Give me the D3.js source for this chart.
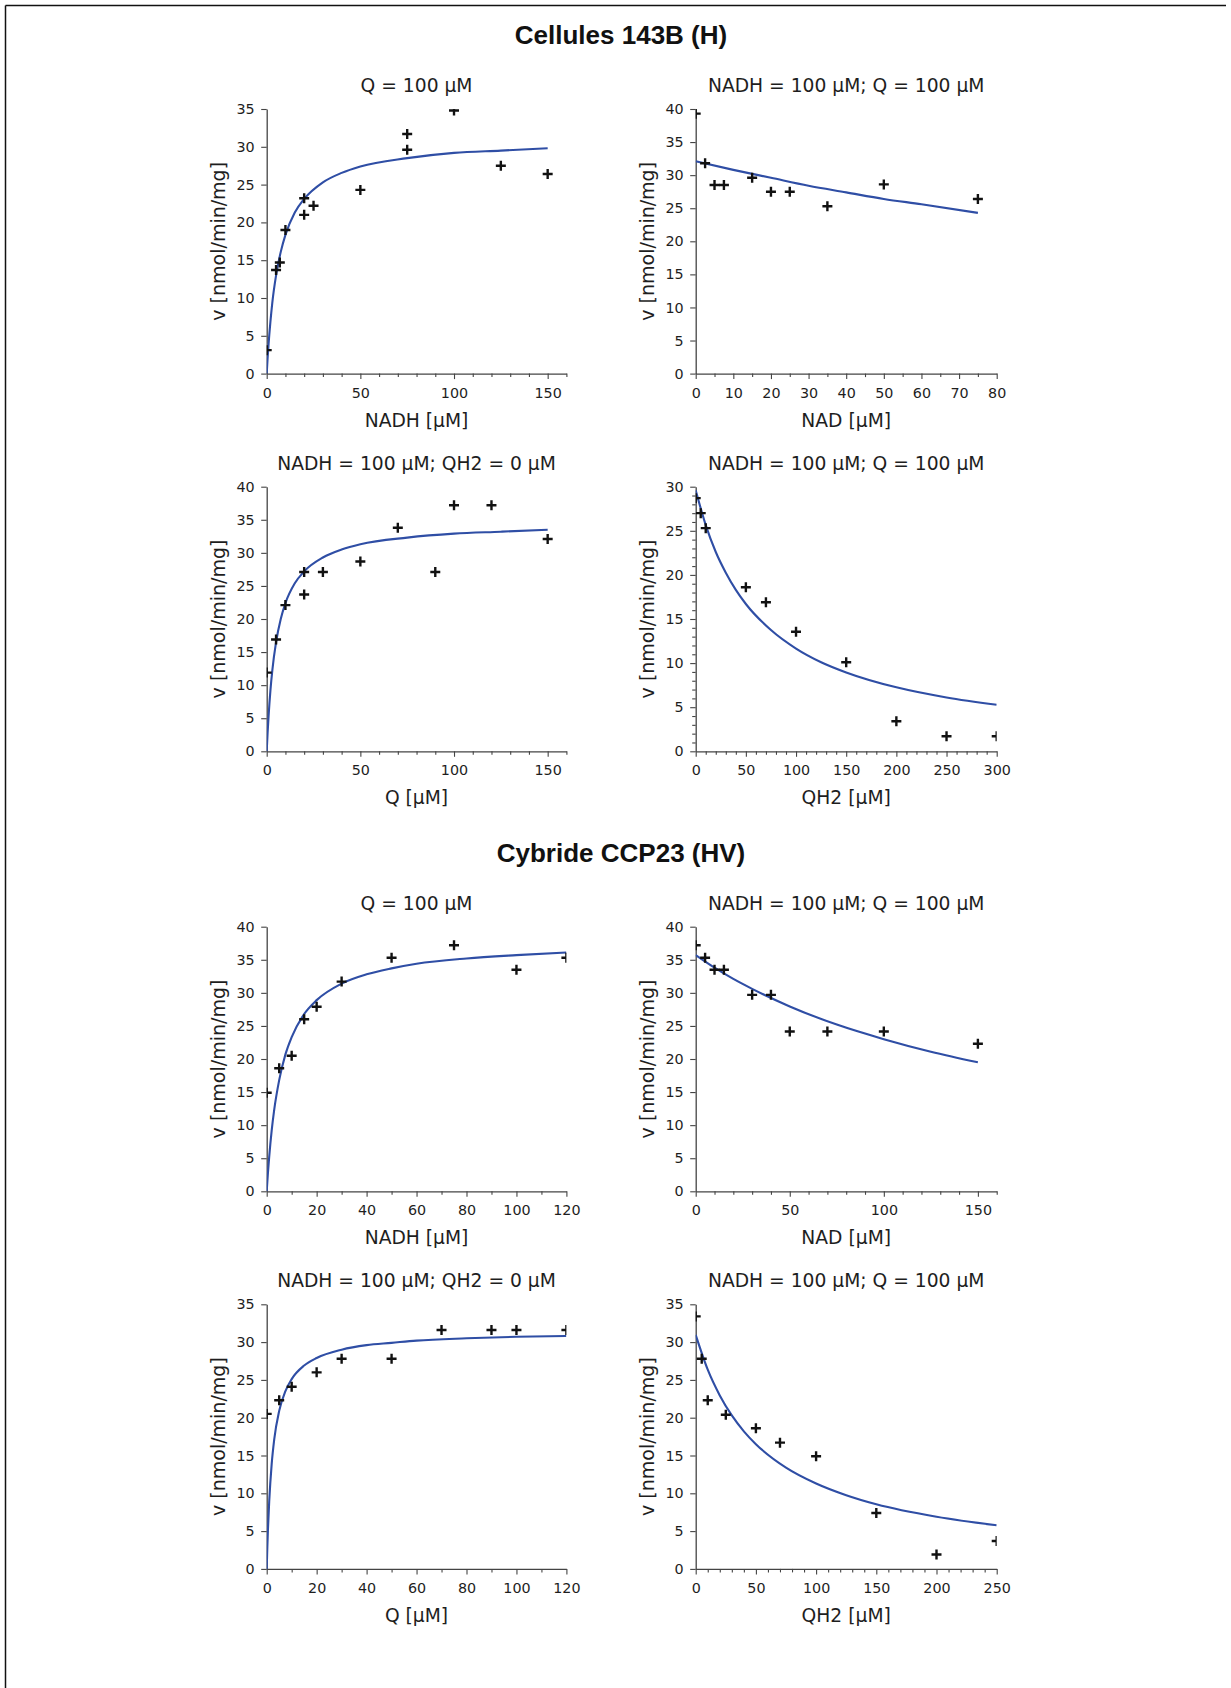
<!DOCTYPE html>
<html><head><meta charset="utf-8">
<script src="https://cdn.jsdelivr.net/npm/d3@7"></script>
<style>body{margin:0;background:#fff}svg{display:block}</style>
</head><body>
<svg id="c" width="1231" height="1688"></svg>
<script>
// ---------- text ----------
const groupTitles = ["Cellules 143B (H)", "Cybride CCP23 (HV)"];
const panelTitles = ["Q = 100 µM", "NADH = 100 µM; Q = 100 µM", "NADH = 100 µM; QH2 = 0 µM", "NADH = 100 µM; Q = 100 µM",
                     "Q = 100 µM", "NADH = 100 µM; Q = 100 µM", "NADH = 100 µM; QH2 = 0 µM", "NADH = 100 µM; Q = 100 µM"];
const xLabels = ["NADH [µM]", "NAD [µM]", "Q [µM]", "QH2 [µM]", "NADH [µM]", "NAD [µM]", "Q [µM]", "QH2 [µM]"];
const yLabel = "v [nmol/min/mg]";

// ---------- tick labels ----------
const xTicks150 = [0, 50, 100, 150];
const xTicks80 = [0, 10, 20, 30, 40, 50, 60, 70, 80];
const xTicks300 = [0, 50, 100, 150, 200, 250, 300];
const xTicks120 = [0, 20, 40, 60, 80, 100, 120];
const xTicks250 = [0, 50, 100, 150, 200, 250];
const yTicks35 = [0, 5, 10, 15, 20, 25, 30, 35];
const yTicks40 = [0, 5, 10, 15, 20, 25, 30, 35, 40];
const yTicks30 = [0, 5, 10, 15, 20, 25, 30];

// ---------- measured points ----------
const p1x = [0, 5, 7, 10, 20, 20, 25, 50, 75, 75, 100, 125, 150];
const p1y = [3.1, 13.7, 14.7, 19.0, 23.2, 21.0, 22.2, 24.3, 31.7, 29.6, 34.8, 27.5, 26.4];
const p2x = [0, 2.5, 5, 7.5, 15, 20, 25, 35, 50, 75];
const p2y = [39.3, 31.8, 28.5, 28.5, 29.6, 27.5, 27.5, 25.3, 28.6, 26.4];
const p3x = [0, 5, 10, 20, 20, 30, 50, 70, 90, 100, 120, 150];
const p3y = [11.9, 16.9, 22.1, 27.1, 23.7, 27.1, 28.7, 33.8, 27.1, 37.2, 37.2, 32.1];
const p4x = [0, 5, 10, 50, 70, 100, 150, 200, 250, 300];
const p4y = [28.7, 27.0, 25.3, 18.6, 16.9, 13.55, 10.1, 3.4, 1.7, 1.7];
const p5x = [0, 5, 10, 15, 20, 30, 50, 75, 100, 120];
const p5y = [14.9, 18.6, 20.5, 26.0, 27.9, 31.7, 35.3, 37.2, 33.5, 35.3];
const p6x = [0, 5, 10, 15, 30, 40, 50, 70, 100, 150];
const p6y = [37.2, 35.3, 33.5, 33.5, 29.7, 29.7, 24.15, 24.15, 24.15, 22.3];
const p7x = [0, 5, 10, 20, 30, 50, 70, 90, 100, 120];
const p7y = [20.5, 22.3, 24.1, 26.0, 27.8, 27.8, 31.6, 31.6, 31.6, 31.6];
const p8x = [0, 5, 10, 25, 50, 70, 100, 150, 200, 250];
const p8y = [33.4, 27.8, 22.3, 20.4, 18.6, 16.7, 14.9, 7.4, 1.9, 3.7];

// ---------- fitted curves ----------
const c1x = [0, 0.5, 1, 2, 3, 5, 7.5, 10, 15, 20, 30, 40, 50, 75, 100, 125, 150];
const c1y = [0, 2.1, 3.9, 6.9, 9.4, 13.0, 16.1, 18.35, 21.3, 23.1, 25.3, 26.55, 27.4, 28.5, 29.2, 29.5, 29.8];
const c2x = [0, 10, 20, 30, 40, 50, 60, 75];
const c2y = [32.1, 30.8, 29.6, 28.4, 27.4, 26.4, 25.6, 24.3];
const c3x = [0, 0.5, 1, 2, 3, 5, 7.5, 10, 15, 20, 30, 40, 50, 75, 100, 125, 150];
const c3y = [0, 2.9, 5.3, 9.25, 12.25, 16.5, 20.0, 22.4, 25.4, 27.2, 29.3, 30.5, 31.3, 32.3, 32.9, 33.2, 33.5];
const c4x = [0, 10, 20, 30, 40, 50, 75, 100, 125, 150, 200, 250, 300];
const c4y = [29.6, 25.65, 22.6, 20.25, 18.3, 16.7, 13.75, 11.65, 10.1, 8.94, 7.25, 6.1, 5.27];
const c5x = [0, 0.5, 1, 2, 3, 5, 7.5, 10, 15, 20, 30, 40, 50, 60, 80, 100, 120];
const c5y = [0, 2.8, 5.2, 9.2, 12.3, 16.8, 20.7, 23.3, 26.8, 28.9, 31.4, 32.8, 33.7, 34.4, 35.2, 35.7, 36.1];
const c6x = [0, 10, 20, 30, 50, 75, 100, 125, 150];
const c6y = [35.7, 33.8, 32.1, 30.6, 27.95, 25.2, 23.0, 21.1, 19.5];
const c7x = [0, 0.25, 0.5, 1, 2, 3, 5, 7.5, 10, 15, 20, 30, 40, 50, 60, 80, 100, 120];
const c7y = [0, 2.84, 5.2, 8.9, 13.9, 17.1, 20.9, 23.5, 25.1, 26.9, 27.9, 29.0, 29.6, 29.9, 30.2, 30.5, 30.7, 30.8];
const c8x = [0, 10, 20, 30, 40, 50, 75, 100, 125, 150, 200, 250];
const c8y = [30.95, 26.35, 22.95, 20.3, 18.2, 16.5, 13.4, 11.3, 9.75, 8.55, 6.9, 5.77];

// ---------- layout ----------
const colX = [266.7, 695.7];
const colW = [299.7, 301];
const rowTop = [109, 486.7, 926.7, 1304.3];
const plotH = 264.6;
const FONT = "'DejaVu Sans', Verdana, sans-serif";
const TXT = "#1e1e1e", AXIS = "#444", BLUE = "#2f4ea5";

const panels = [
  {c:0, r:0, xs:p1x, ys:p1y, cx:c1x, cy:c1y, xd:[0,160], yd:[0,35], xt:xTicks150, xm:10, yt:yTicks35, ym:null},
  {c:1, r:0, xs:p2x, ys:p2y, cx:c2x, cy:c2y, xd:[0,80],  yd:[0,40], xt:xTicks80,  xm:5,  yt:yTicks40, ym:null},
  {c:0, r:1, xs:p3x, ys:p3y, cx:c3x, cy:c3y, xd:[0,160], yd:[0,40], xt:xTicks150, xm:10, yt:yTicks40, ym:null},
  {c:1, r:1, xs:p4x, ys:p4y, cx:c4x, cy:c4y, xd:[0,300], yd:[0,30], xt:xTicks300, xm:10, yt:yTicks30, ym:1},
  {c:0, r:2, xs:p5x, ys:p5y, cx:c5x, cy:c5y, xd:[0,120], yd:[0,40], xt:xTicks120, xm:10, yt:yTicks40, ym:null},
  {c:1, r:2, xs:p6x, ys:p6y, cx:c6x, cy:c6y, xd:[0,160], yd:[0,40], xt:xTicks150, xm:10, yt:yTicks40, ym:null},
  {c:0, r:3, xs:p7x, ys:p7y, cx:c7x, cy:c7y, xd:[0,120], yd:[0,35], xt:xTicks120, xm:10, yt:yTicks35, ym:null},
  {c:1, r:3, xs:p8x, ys:p8y, cx:c8x, cy:c8y, xd:[0,250], yd:[0,35], xt:xTicks250, xm:10, yt:yTicks35, ym:null}
];

const svg = d3.select("#c");

// frame (top and left border)
svg.append("line").attr("x1", 5.5).attr("y1", 5.5).attr("x2", 1226).attr("y2", 5.5)
  .attr("stroke", "#111").attr("stroke-width", 1.5);
svg.append("line").attr("x1", 5.5).attr("y1", 5.5).attr("x2", 5.5).attr("y2", 1688)
  .attr("stroke", "#111").attr("stroke-width", 1.5);

// group titles
[44, 862].forEach((yb, i) => {
  svg.append("text").attr("x", 621).attr("y", yb).attr("text-anchor", "middle")
    .attr("font-family", "'Liberation Sans', Arial, sans-serif").attr("font-weight", "bold")
    .attr("font-size", 26).attr("fill", "#111").text(groupTitles[i]);
});

panels.forEach((p, i) => {
  const w = colW[p.c], h = plotH;
  const g = svg.append("g").attr("transform", `translate(${colX[p.c]},${rowTop[p.r]})`);
  const x = d3.scaleLinear().domain(p.xd).range([0, w]);
  const y = d3.scaleLinear().domain(p.yd).range([h, 0]);

  // minor ticks
  const xMinor = d3.range(p.xd[0], p.xd[1] + 1e-9, p.xm).filter(v => !p.xt.includes(v));
  const gxm = g.append("g").attr("transform", `translate(0,${h})`)
    .call(d3.axisBottom(x).tickValues(xMinor).tickSize(3.5).tickSizeOuter(0).tickFormat(""));
  gxm.select(".domain").remove();
  if (p.ym) {
    const yMinor = d3.range(p.yd[0], p.yd[1] + 1e-9, p.ym).filter(v => !p.yt.includes(v));
    const gym = g.append("g").call(d3.axisLeft(y).tickValues(yMinor).tickSize(3.5).tickSizeOuter(0).tickFormat(""));
    gym.select(".domain").remove();
  }
  // major ticks
  const gx = g.append("g").attr("transform", `translate(0,${h})`)
    .call(d3.axisBottom(x).tickValues(p.xt).tickSize(5.5).tickSizeOuter(0).tickPadding(8.5).tickFormat(d3.format("d")));
  const gy = g.append("g")
    .call(d3.axisLeft(y).tickValues(p.yt).tickSize(5.5).tickSizeOuter(0).tickPadding(6.5).tickFormat(d3.format("d")));
  [gx, gy, gxm].forEach(a => {
    a.selectAll("line").attr("stroke", AXIS).attr("stroke-width", 1.1);
    a.selectAll(".domain").attr("stroke", AXIS).attr("stroke-width", 1.3);
    a.selectAll("text").attr("font-family", FONT).attr("font-size", 14.3).attr("fill", TXT);
  });
  g.selectAll(".tick line").attr("stroke", AXIS).attr("stroke-width", 1.1);

  // clip
  const cid = "clip" + i;
  g.append("clipPath").attr("id", cid).append("rect").attr("x", 0).attr("y", 0).attr("width", w).attr("height", h);
  const pg = g.append("g").attr("clip-path", `url(#${cid})`);

  // curve
  const curvePts = p.cx.map((v, k) => [v, p.cy[k]]);
  pg.append("path").datum(curvePts)
    .attr("d", d3.line().x(d => x(d[0])).y(d => y(d[1])).curve(d3.curveMonotoneX))
    .attr("fill", "none").attr("stroke", BLUE).attr("stroke-width", 2.1);

  // markers
  const pts = p.xs.map((v, k) => [v, p.ys[k]]);
  pg.selectAll("path.m").data(pts).join("path").attr("class", "m")
    .attr("transform", d => `translate(${x(d[0])},${y(d[1])})`)
    .attr("d", "M-5,0H5M0,-5V5")
    .attr("stroke", "#111").attr("stroke-width", 2.4).attr("fill", "none");

  // titles & labels
  g.append("text").attr("x", w / 2).attr("y", -17).attr("text-anchor", "middle")
    .attr("font-family", FONT).attr("font-size", 18.7).attr("fill", TXT).text(panelTitles[i]);
  g.append("text").attr("x", w / 2).attr("y", h + 53).attr("text-anchor", "middle")
    .attr("font-family", FONT).attr("font-size", 18.7).attr("fill", TXT).text(xLabels[i]);
  g.append("text").attr("transform", `translate(-41.5,${h / 2}) rotate(-90)`).attr("text-anchor", "middle")
    .attr("font-family", FONT).attr("font-size", 19).attr("fill", TXT).text(yLabel);
});
</script>
</body></html>
